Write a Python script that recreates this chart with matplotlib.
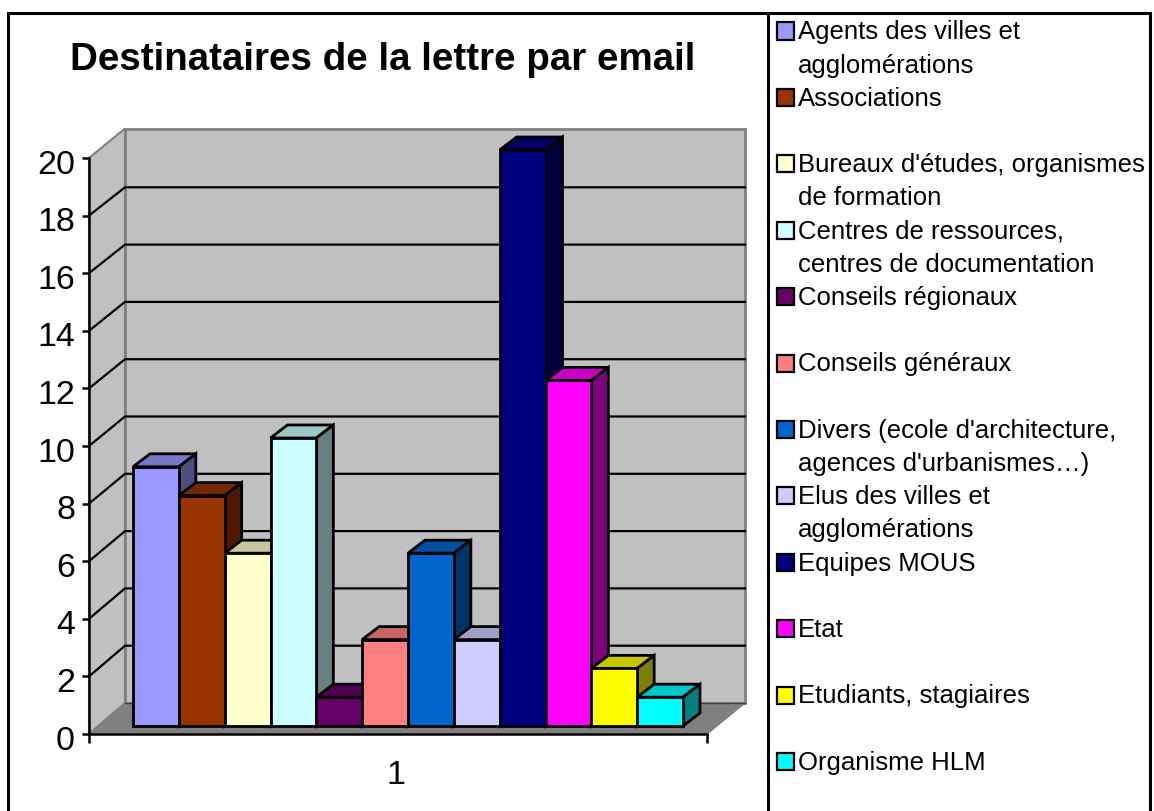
import matplotlib
matplotlib.use("Agg")
import matplotlib.pyplot as plt
from matplotlib.lines import Line2D
from matplotlib.patches import Polygon, Rectangle
from matplotlib.colors import to_rgb
from matplotlib.transforms import ScaledTranslation

W, H = 1154, 811

title = "Destinataires de la lettre par email"
categories = [
    "Agents des villes et\nagglomérations",
    "Associations",
    "Bureaux d'études, organismes\nde formation",
    "Centres de ressources,\ncentres de documentation",
    "Conseils régionaux",
    "Conseils généraux",
    "Divers (ecole d'architecture,\nagences d'urbanismes…)",
    "Elus des villes et\nagglomérations",
    "Equipes MOUS",
    "Etat",
    "Etudiants, stagiaires",
    "Organisme HLM",
]
values = [9, 8, 6, 10, 1, 3, 6, 3, 20, 12, 2, 1]
colors = ["#9999FF", "#993300", "#FFFFCC", "#CCFFFF", "#660066", "#FF8080",
          "#0066CC", "#CCCCFF", "#000080", "#FF00FF", "#FFFF00", "#00FFFF"]
y_ticks = list(range(0, 21, 2))

plt.rcParams['font.family'] = ['Liberation Sans', 'DejaVu Sans']


def shade(color, k):
    return tuple(c * k for c in to_rgb(color))


def fx(px):
    return px / W


def fy(px):
    return 1 - px / H


fig = plt.figure(figsize=(W / 100, H / 100), dpi=100)

# front plane of the fake 3D box
ax = fig.add_axes([fx(89), fy(734), (707 - 89) / W, (734 - 158) / H])
cat_w = 550 / 12
unit_h = 576 / 20
ax.set_xlim(-44 / cat_w, 12 + 24 / cat_w)
ax.set_ylim(0, 20)
ax.patch.set_visible(False)
x0, x1 = ax.get_xlim()

# offsets of the box and of the bars, in data units
box_dx = 36 / cat_w
box_dx_r = 38 / cat_w
box_dy = 31 / unit_h
back_scale = 28.65 / 28.8
bar_dx = 17 / cat_w
bar_dy = 13 / unit_h
lift = 8 / unit_h

GRAY = "#808080"
WALL = "#C0C0C0"
back_top = box_dy + 20 * back_scale + 1.5 / unit_h

# walls and floor
ax.add_patch(Polygon([(x0, 0), (x0, 20), (x0 + box_dx, back_top), (x0 + box_dx, box_dy)],
                     fc=WALL, ec=GRAY, lw=1.5, clip_on=False, zorder=1))
ax.add_patch(Polygon([(x0 + box_dx, box_dy), (x0 + box_dx, back_top),
                      (x1 + box_dx_r, back_top), (x1 + box_dx_r, box_dy)],
                     fc=WALL, ec=GRAY, lw=2, clip_on=False, zorder=1))
ax.add_patch(Polygon([(x0, 0), (x1, 0), (x1 + box_dx_r, box_dy), (x0 + box_dx, box_dy)],
                     fc=GRAY, ec=GRAY, lw=1, clip_on=False, zorder=1))

# gridlines
for v in y_ticks[1:-1]:
    yb = box_dy + v * back_scale
    ax.plot([x0, x0 + box_dx, x1 + box_dx_r], [v, yb, yb],
            color="black", lw=1.6, clip_on=False, zorder=2, solid_joinstyle="miter")
ax.plot([x0 + box_dx, x1 + box_dx_r], [box_dy, box_dy], color="#404040", lw=1,
        clip_on=False, zorder=2)

# bars, left to right so each front hides the side of the previous one
for i, (val, col) in enumerate(zip(values, colors)):
    z = 3 + i
    top = lift + val
    ax.add_patch(Polygon([(i, top), (i + bar_dx, top + bar_dy), (i + 1 + bar_dx, top + bar_dy), (i + 1, top)],
                         fc=shade(col, 0.78), ec="black", lw=2, clip_on=False, zorder=z))
    ax.add_patch(Polygon([(i + 1, lift), (i + 1 + bar_dx, lift + bar_dy), (i + 1 + bar_dx, top + bar_dy), (i + 1, top)],
                         fc=shade(col, 0.5), ec="black", lw=2, clip_on=False, zorder=z))
    ax.bar(i, val, width=1, bottom=lift, align="edge", color=col, edgecolor="black",
           linewidth=2, clip_on=False, zorder=z)

# axes
for name in ["top", "right"]:
    ax.spines[name].set_visible(False)
for name in ["left", "bottom"]:
    ax.spines[name].set_linewidth(1.8)
    ax.spines[name].set_zorder(20)
ax.set_yticks(y_ticks)
ax.set_xticks([x0, x1])
ax.set_xticklabels([])
ax.set_xticks([(x0 + x1) / 2 - 2 / cat_w], labels=["1"], minor=True)
ax.tick_params(axis="y", length=5, width=1.8, labelsize=24.5, pad=5)
ax.tick_params(axis="x", which="major", length=6.5, width=1.8)
ax.tick_params(axis="x", which="minor", length=0, labelsize=24.5, pad=19)

# the numbers sit a little under their ticks in the original
nudge = ScaledTranslation(0, -3.5 / 100, fig.dpi_scale_trans)
for lab in ax.get_yticklabels():
    lab.set_transform(lab.get_transform() + nudge)

fig.text(fx(383), fy(60), title, fontsize=27.7, fontweight="bold", ha="center", va="center")

# legend is placed by hand like in the original panel
for i, (label, col) in enumerate(zip(categories, colors)):
    yc = 31 + i * 66.4
    fig.add_artist(Rectangle((fx(776.5), fy(yc + 8.5)), 17 / W, 17 / H, fc=col, ec="black", lw=1.6,
                             transform=fig.transFigure))
    for j, line in enumerate(label.split("\n")):
        fig.text(fx(798), fy(yc + 1.5 + j * 33), line, fontsize=18.5, ha="left", va="center")

# panel frame
for xs, ys in [((8, 8), (12.5, 811)), ((8, 1150), (12.5, 12.5)), ((768, 768), (12.5, 811)), ((1150, 1150), (12.5, 811))]:
    fig.add_artist(Line2D([fx(x) for x in xs], [fy(y) for y in ys], color="black", lw=2.2,
                          transform=fig.transFigure))

fig.savefig("out.png", dpi=100)
